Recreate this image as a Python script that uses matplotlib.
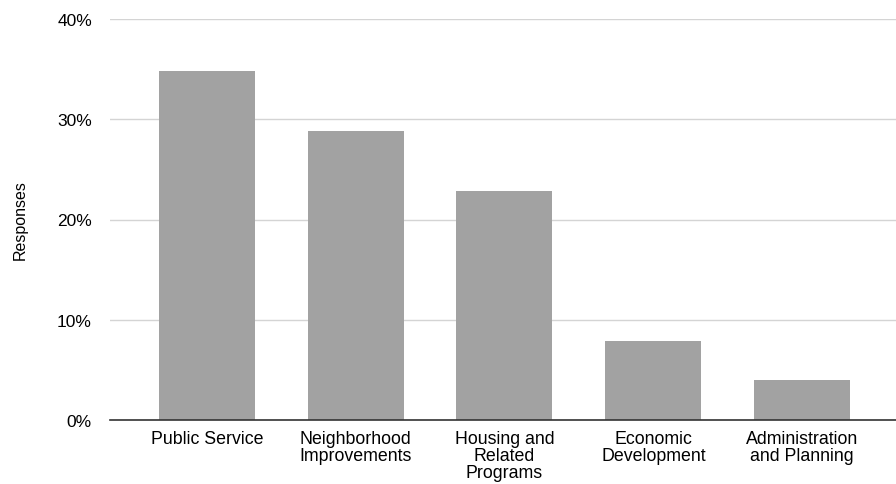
import matplotlib
matplotlib.use('Agg')
import matplotlib.pyplot as plt
from matplotlib.ticker import FuncFormatter

categories = ['Public Service', 'Neighborhood\nImprovements',
              'Housing and\nRelated\nPrograms', 'Economic\nDevelopment',
              'Administration\nand Planning']
responses = [34.8, 28.8, 22.8, 7.9, 4.0]
yticks = [0, 10, 20, 30, 40]

plt.rcParams['font.family'] = ['Liberation Sans', 'DejaVu Sans']

fig = plt.figure(figsize=(8.96, 4.85), dpi=100)
ax = fig.add_axes([110/896, 1 - 421/485, 786/896, 401/485])

x = range(len(categories))
ax.bar(x, responses, width=0.645, color='#a2a2a2', zorder=2)

ax.set_ylim(0, 40)
ax.set_xlim(-0.65, 4.63)
ax.set_yticks(yticks)
ax.yaxis.set_major_formatter(FuncFormatter(lambda v, p: f'{v:.0f}%'))
ax.set_xticks(list(x))
ax.set_xticklabels(categories, fontsize=12.8, linespacing=1.02)
ax.tick_params(axis='y', labelsize=12.5, length=0, pad=13)
ax.tick_params(axis='x', length=0, pad=7)
ax.grid(axis='y', color='#d4d4d4', linewidth=1, zorder=0)

for s in ['top', 'right', 'left']:
    ax.spines[s].set_visible(False)
ax.spines['bottom'].set_color('#333333')
ax.spines['bottom'].set_linewidth(1.2)
ax.spines['bottom'].set_zorder(3)

ax.set_ylabel('Responses', fontsize=11.5, labelpad=21)

fig.savefig('out.png', dpi=100)
